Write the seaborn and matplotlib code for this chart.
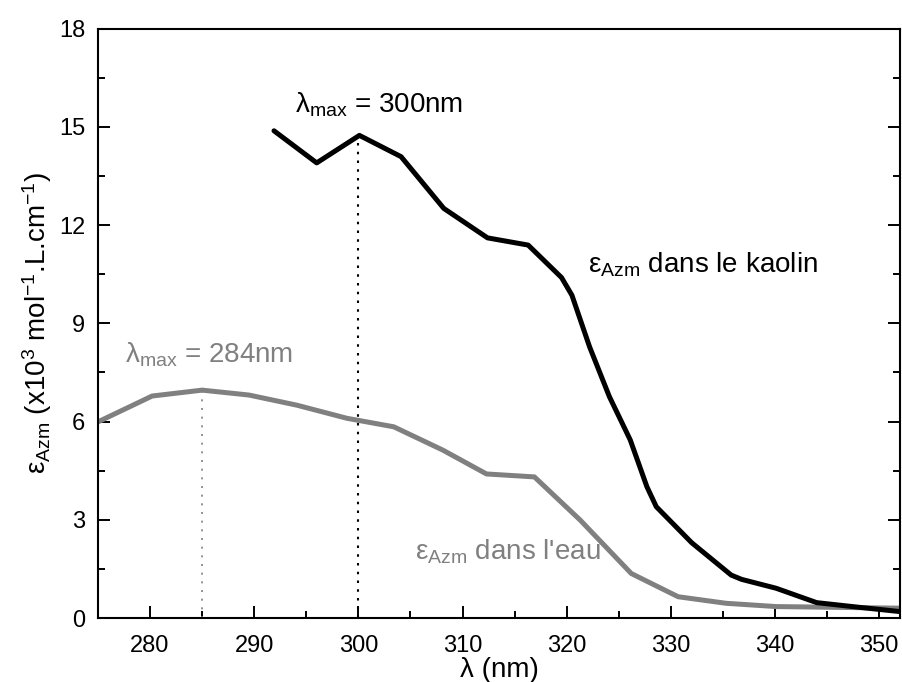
import numpy as np
import pandas as pd
import matplotlib
matplotlib.use('Agg')
import matplotlib.pyplot as plt
from matplotlib.ticker import MultipleLocator
import seaborn as sns

# kaolin (black) curve
kaolin_nm = [291.9, 296.0, 300.1, 304.1, 308.2, 312.4, 316.3, 319.5, 320.5, 322.2,
             324.1, 326.1, 327.7, 328.6, 332.0, 335.8, 336.8, 340.1, 344.0, 348.0, 352.2]
kaolin_eps = [14.88, 13.90, 14.74, 14.09, 12.51, 11.61, 11.39, 10.40, 9.86, 8.28,
              6.76, 5.44, 4.01, 3.40, 2.30, 1.31, 1.18, 0.91, 0.47, 0.33, 0.19]

# water (grey) curve
eau_nm = [275.0, 280.2, 285.0, 289.5, 294.1, 298.9, 303.4, 308.1, 312.3, 316.9,
          321.3, 326.2, 330.7, 335.3, 340.1, 352.2]
eau_eps = [5.99, 6.78, 6.96, 6.81, 6.50, 6.10, 5.84, 5.13, 4.40, 4.31,
           2.99, 1.36, 0.65, 0.45, 0.35, 0.30]

peak_kaolin = (300.0, 14.70)
peak_eau = (285.0, 6.96)

sns.set_style('ticks')
plt.rcParams['font.family'] = ['Liberation Sans', 'DejaVu Sans']
plt.rcParams['mathtext.fontset'] = 'custom'
plt.rcParams['mathtext.rm'] = 'Liberation Sans'
plt.rcParams['mathtext.it'] = 'Liberation Sans:italic'
plt.rcParams['axes.unicode_minus'] = False
plt.rcParams['text.color'] = 'black'
plt.rcParams['axes.labelcolor'] = 'black'
plt.rcParams['xtick.color'] = 'black'
plt.rcParams['ytick.color'] = 'black'
plt.rcParams['axes.edgecolor'] = 'black'

df_k = pd.DataFrame({'nm': kaolin_nm, 'eps': kaolin_eps})
df_e = pd.DataFrame({'nm': eau_nm, 'eps': eau_eps})

fig = plt.figure(figsize=(9.02, 6.82), dpi=100)
ax = fig.add_axes([0.1086, 0.0938, 0.8892, 0.8642])

grey = '#808080'
sns.lineplot(data=df_e, x='nm', y='eps', color=grey, lw=3.6, ax=ax, sort=False)
sns.lineplot(data=df_k, x='nm', y='eps', color='black', lw=3.6, ax=ax, sort=False)

# peak markers
ax.plot([peak_kaolin[0]] * 2, [0, peak_kaolin[1]], color='black', lw=1.5, ls=(0, (1.2, 3)))
ax.plot([peak_eau[0]] * 2, [0, peak_eau[1]], color=grey, lw=1.2, ls=(0, (1.2, 4)))

ax.set_xlim(275, 352)
ax.set_ylim(0, 18)
ax.xaxis.set_major_locator(MultipleLocator(10))
ax.xaxis.set_minor_locator(MultipleLocator(5))
ax.yaxis.set_major_locator(MultipleLocator(3))
ax.yaxis.set_minor_locator(MultipleLocator(1.5))
ax.tick_params(which='both', direction='in', right=True, width=1.4, labelsize=17)
ax.tick_params(which='major', length=8.5, pad=9)
ax.tick_params(axis='x', which='major', pad=12)
ax.tick_params(which='minor', length=5)
for s in ax.spines.values():
    s.set_linewidth(1.5)

ax.set_xlabel('λ (nm)', fontsize=20, labelpad=0)
ax.set_ylabel(r'ε$_\mathregular{Azm}$ (x10$^\mathregular{3}$ mol$^\mathregular{-1}$.L.cm$^\mathregular{-1}$)',
              fontsize=20, labelpad=4)

ax.text(295, 105, r'λ$_\mathregular{max}$ = 300nm', transform=None, fontsize=20,
        color='black', va='center')
ax.text(125, 355, r'λ$_\mathregular{max}$ = 284nm', transform=None, fontsize=20,
        color=grey, va='center')
ax.text(588, 265, r'ε$_\mathregular{Azm}$ dans le kaolin', transform=None, fontsize=20,
        color='black', va='center')
ax.text(415, 552, r"ε$_\mathregular{Azm}$ dans l'eau", transform=None, fontsize=20,
        color=grey, va='center')

# text placed in pixel coords from top-left; convert
for t in ax.texts:
    x, y = t.get_position()
    t.set_position((x, 682 - y))

fig.savefig('out.png', dpi=100)
